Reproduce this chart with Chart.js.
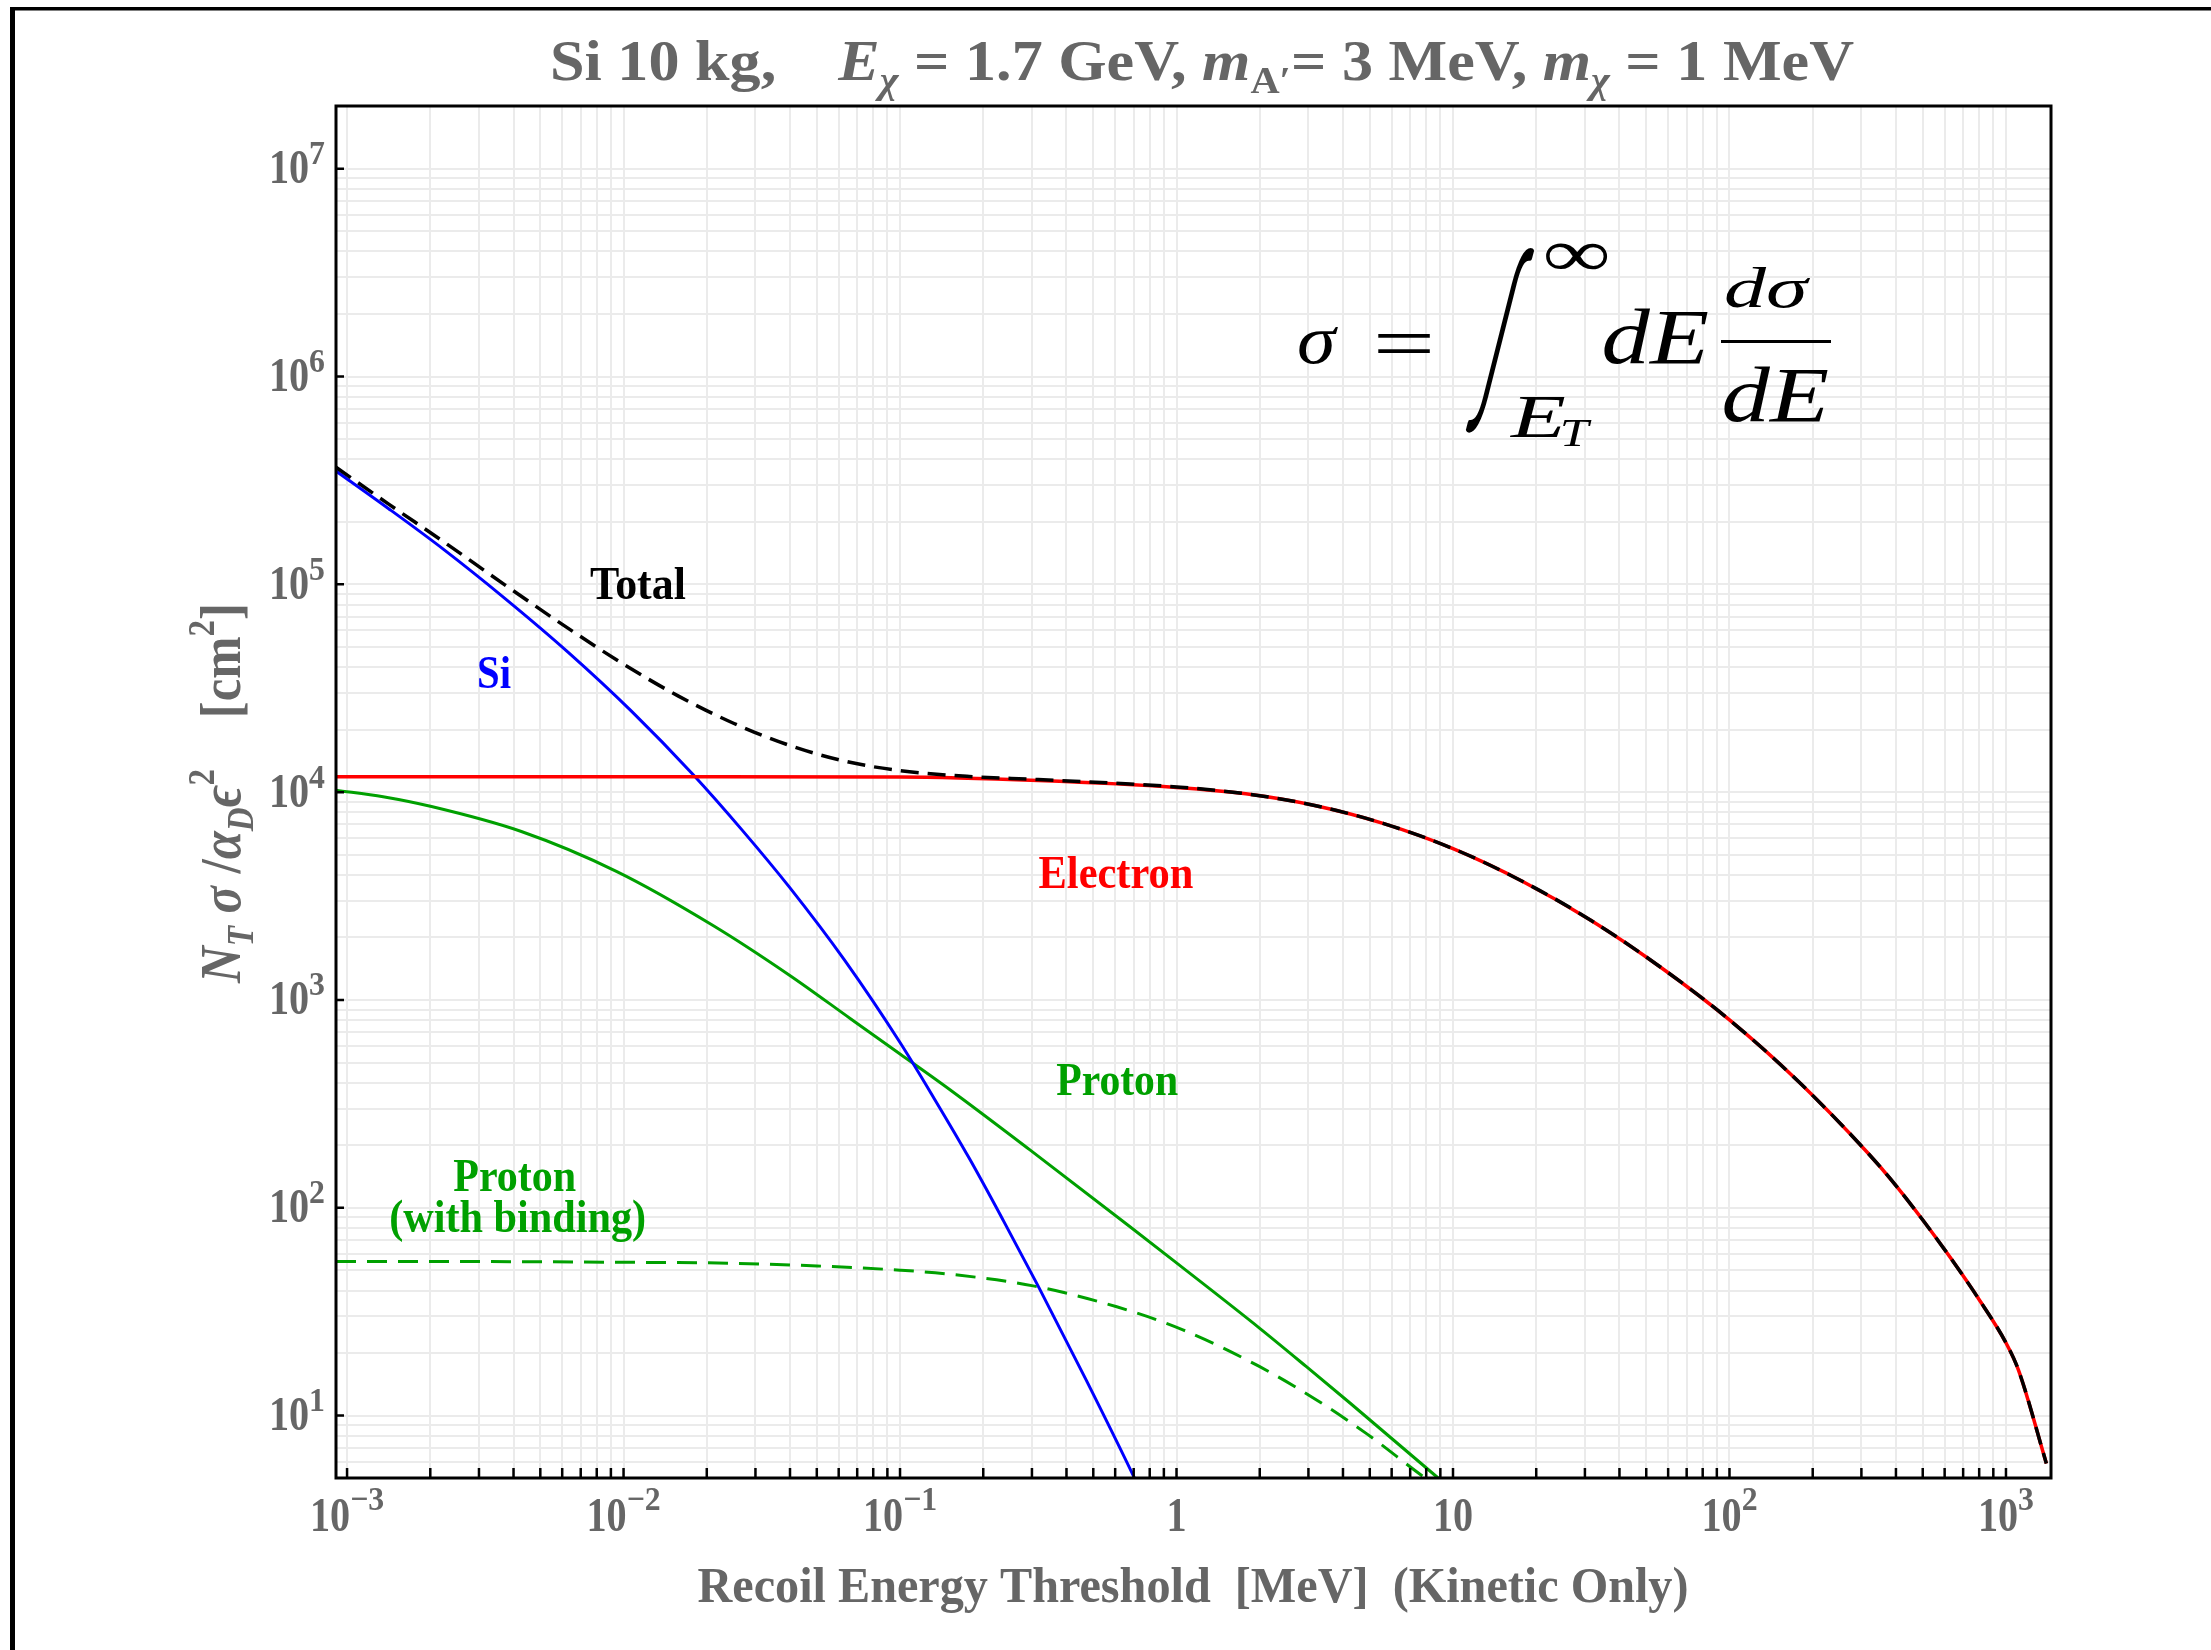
<!DOCTYPE html>
<html>
<head>
<meta charset="utf-8">
<script src="https://cdn.jsdelivr.net/npm/chart.js@4.4.1/dist/chart.umd.min.js"></script>
<style>
  html, body { margin: 0; padding: 0; background: #fff; }
  #wrap { position: relative; width: 2211px; height: 1650px; }
</style>
</head>
<body>
<div id="wrap"><canvas id="chart" width="2211" height="1650"></canvas></div>
<script>
// Recoil energy threshold E_T [MeV] vs N_T sigma / alpha_D eps^2 [cm^2]

const siE = [9.12e-4, 1.41e-3, 2.24e-3, 3.72e-3, 6.31e-3, 1.07e-2, 1.78e-2, 2.69e-2, 3.98e-2, 6.31e-2, 0.100, 0.133, 0.178, 0.237, 0.316, 0.473, 0.708, 0.794];
const siSigma = [3.51e5, 2.32e5, 1.47e5, 8.57e4, 4.71e4, 2.45e4, 1.22e4, 6550, 3490, 1550, 624, 335, 173, 86.3, 42.0, 14.7, 4.94, 3.55];

const electronE = [9.12e-4, 1.0e-2, 0.100, 0.316, 1.00, 1.78, 3.16, 5.62, 10.0, 17.8, 31.6, 56.2, 100, 178, 316, 398, 501, 631, 794, 1000, 1109, 1400];
const electronSigma = [1.186e4, 1.186e4, 1.183e4, 1.138e4, 1.054e4, 9820, 8630, 7060, 5350, 3730, 2415, 1442, 802, 404, 184, 129, 87.1, 57.3, 36.7, 22.4, 16.6, 5.89];

const totalE = [9.12e-4, 1.41e-3, 2.24e-3, 3.72e-3, 6.31e-3, 1.0e-2, 1.58e-2, 2.51e-2, 3.98e-2, 6.31e-2, 0.100, 0.178, 0.316, 1.00, 1.78, 3.16, 5.62, 10.0, 17.8, 31.6, 56.2, 100, 178, 316, 398, 501, 631, 794, 1000, 1109, 1400];
const totalSigma = [3.66e5, 2.44e5, 1.60e5, 9.95e4, 6.14e4, 4.13e4, 2.90e4, 2.14e4, 1.68e4, 1.41e4, 1.27e4, 1.19e4, 1.15e4, 1.06e4, 9820, 8630, 7060, 5350, 3730, 2415, 1442, 802, 404, 184, 129, 87.1, 57.3, 36.7, 22.4, 16.6, 5.89];

const protonE = [9.12e-4, 1.35e-3, 2.02e-3, 4.27e-3, 9.46e-3, 2.10e-2, 3.97e-2, 6.62e-2, 0.100, 0.152, 0.295, 0.679, 1.00, 2.00, 2.95, 4.24, 8.73, 9.12];
const protonSigma = [1.023e4, 9510, 8530, 6470, 4150, 2290, 1320, 813, 550, 369, 190, 81.1, 54.3, 26.3, 17.2, 11.5, 5.08, 4.83];

const bindingE = [9.12e-4, 3.16e-3, 1.0e-2, 2.46e-2, 5.01e-2, 0.100, 0.152, 0.303, 0.608, 1.06, 2.00, 3.21, 4.88, 7.82, 8.13];
const bindingSigma = [55.2, 55.1, 54.7, 54.1, 52.5, 50.1, 47.9, 42.1, 33.4, 25.8, 17.2, 11.9, 8.17, 5.08, 4.90];

// axes
const xMin = 9.12e-4, xMax = 1455;
const yMin = 5.01, yMax = 2.004e7;
const xTickValues = [1e-3, 1e-2, 1e-1, 1, 10, 1e2, 1e3];
const xTickLabels = [['10', '\u22123'], ['10', '\u22122'], ['10', '\u22121'], ['1', ''], ['10', ''], ['10', '2'], ['10', '3']];
const yTickValues = [1e1, 1e2, 1e3, 1e4, 1e5, 1e6, 1e7];
const yTickLabels = [['10', '1'], ['10', '2'], ['10', '3'], ['10', '4'], ['10', '5'], ['10', '6'], ['10', '7']];

const GRAY = '#666666';
const SERIF = '"Liberation Serif", "Times New Roman", "DejaVu Serif", serif';
const SQUASH = 0.87;

// 1..9 x 10^k inside the range, for grid and minor ticks
function gridValues(min, max) {
  const out = [];
  for (let k = Math.floor(Math.log10(min)); k <= Math.ceil(Math.log10(max)); k++) {
    for (let m = 1; m <= 9; m++) {
      const v = parseFloat((m * Math.pow(10, k)).toPrecision(6));
      if (v >= min && v <= max) out.push(v);
    }
  }
  return out;
}

function segFont(s, size) {
  const sz = (s.sub || s.sup) ? size * (s.small || 0.65) : size;
  return (s.it ? 'italic ' : '') + (s.normal ? '' : 'bold ') + sz.toFixed(1) + 'px ' + SERIF;
}

// mixed-style text on one baseline; o.width stretches it to a measured width
function drawRich(ctx, segs, o) {
  const base = o.squash || SQUASH;
  let w = 0;
  segs.forEach(s => {
    ctx.font = segFont(s, o.size);
    s._w = ctx.measureText(s.t).width * (s.sq || base);
    w += s._w;
  });
  const g = o.width ? o.width / w : 1;
  ctx.save();
  ctx.translate(o.x, o.y);
  if (o.rotate) ctx.rotate(-Math.PI / 2);
  ctx.fillStyle = o.color;
  ctx.textAlign = 'left';
  ctx.textBaseline = 'alphabetic';
  let x = o.align === 'right' ? -w * g : -w * g / 2;
  segs.forEach(s => {
    ctx.font = segFont(s, o.size);
    const dy = s.sub ? o.size * 0.22 : (s.sup ? -o.size * (s.rise || 0.42) : 0);
    ctx.save();
    ctx.translate(x, dy);
    ctx.scale((s.sq || base) * g, 1);
    ctx.fillText(s.t, 0, 0);
    ctx.restore();
    x += s._w * g;
  });
  ctx.restore();
}

// glyphs stretched into an ink box (used for the formula); skew slants them
function drawInBox(ctx, text, font, x0, x1, y0, y1, skew) {
  ctx.font = font;
  ctx.textAlign = 'left';
  ctx.textBaseline = 'alphabetic';
  const m = ctx.measureText(text);
  const iw = m.actualBoundingBoxLeft + m.actualBoundingBoxRight;
  const ih = m.actualBoundingBoxAscent + m.actualBoundingBoxDescent;
  const k = skew || 0;
  const h = y1 - y0;
  const wInk = (x1 - x0) - Math.abs(k) * h;
  ctx.save();
  ctx.translate(x0 + (k > 0 ? k * h : 0), y0);
  ctx.transform(1, 0, -k, 1, 0, 0);
  ctx.scale(wInk / iw, h / ih);
  ctx.fillText(text, m.actualBoundingBoxLeft, m.actualBoundingBoxAscent);
  ctx.restore();
}

const decorations = {
  id: 'decorations',
  afterDraw(chart) {
    const { ctx, chartArea: a, scales: { x, y } } = chart;
    ctx.save();

    // plot frame
    ctx.strokeStyle = '#000';
    ctx.lineWidth = 3;
    ctx.strokeRect(a.left, a.top, a.right - a.left, a.bottom - a.top);

    // inward tick marks: every minor on the bottom, decades on the left
    ctx.lineWidth = 2.5;
    ctx.beginPath();
    gridValues(xMin, xMax).forEach(v => {
      const px = x.getPixelForValue(v);
      ctx.moveTo(px, a.bottom); ctx.lineTo(px, a.bottom - 10);
    });
    yTickValues.forEach(v => {
      const py = y.getPixelForValue(v);
      ctx.moveTo(a.left, py); ctx.lineTo(a.left + 8, py);
    });
    ctx.stroke();

    // tick labels
    xTickValues.forEach((v, i) => {
      const [b, e] = xTickLabels[i];
      const segs = [{ t: b, sq: 0.82 }];
      if (e) segs.push({ t: e, sup: true, small: 0.69, rise: 0.41, sq: 0.94 });
      drawRich(ctx, segs, { x: x.getPixelForValue(v), y: a.bottom + 52.5, size: 49, color: GRAY });
    });
    yTickValues.forEach((v, i) => {
      const [b, e] = yTickLabels[i];
      drawRich(ctx, [{ t: b, sq: 0.82 }, { t: e, sup: true, small: 0.69, rise: 0.39, sq: 0.94 }],
        { x: a.left - 11, y: y.getPixelForValue(v) + 14.5, size: 49, color: GRAY, align: 'right' });
    });

    // title
    drawRich(ctx, [
      { t: 'Si 10 kg,    ' }, { t: 'E', it: true }, { t: '\u03c7', it: true, sub: true },
      { t: ' = 1.7 GeV, ' }, { t: 'm', it: true }, { t: 'A\u2032', sub: true },
      { t: '= 3 MeV, ' }, { t: 'm', it: true }, { t: '\u03c7', it: true, sub: true }, { t: ' = 1 MeV' }
    ], { x: 1202, y: 80, size: 57, color: GRAY, width: 1304 });

    // axis titles
    drawRich(ctx, [{ t: 'Recoil Energy Threshold  [MeV]  (Kinetic Only)' }],
      { x: 1193, y: 1602, size: 50, color: GRAY, width: 991 });
    drawRich(ctx, [
      { t: 'N', it: true }, { t: 'T', it: true, sub: true }, { t: ' \u03c3 ', it: true }, { t: '/' },
      { t: '\u03b1', it: true }, { t: 'D', it: true, sub: true }, { t: '\u03f5', it: true },
      { t: '2', sup: true, rise: 0.45 }, { t: '    [cm' }, { t: '2', sup: true, rise: 0.45 }, { t: ']' }
    ], { x: 240, y: 793, size: 58, color: GRAY, width: 380, rotate: true });

    // curve labels, anchored in data coordinates (centre x, baseline y)
    const tags = [
      { t: 'Total', e: 0.01127, s: 8.51e4, c: '#000000', w: 96 },
      { t: 'Si', e: 3.40e-3, s: 3.17e4, c: '#0000ff', w: 34 },
      { t: 'Electron', e: 0.604, s: 3475, c: '#ff0000', w: 155 },
      { t: 'Proton', e: 0.610, s: 349, c: '#00a000', w: 122 },
      { t: 'Proton', e: 4.04e-3, s: 120.8, c: '#00a000', w: 123 },
      { t: '(with binding)', e: 4.14e-3, s: 76.6, c: '#00a000', w: 257 }
    ];
    tags.forEach(g => drawRich(ctx, [{ t: g.t }],
      { x: x.getPixelForValue(g.e), y: y.getPixelForValue(g.s), size: 47, color: g.c, width: g.w }));

    // sigma = int_{E_T}^inf dE dsigma/dE
    ctx.fillStyle = '#000';
    const it = 'italic 80px ' + SERIF, up = '80px ' + SERIF;
    const integralFont = '120px Lato, "DejaVu Sans", sans-serif';
    drawInBox(ctx, '\u03c3', it, 1299, 1338, 326, 364);
    drawInBox(ctx, '=', up, 1377, 1431, 333, 353);
    drawInBox(ctx, '\u222b', integralFont, 1465, 1535, 248, 433, 0.22);
    drawInBox(ctx, '\u221e', up, 1546, 1607, 243, 270);
    drawInBox(ctx, 'E', it, 1510, 1565, 397, 437);
    drawInBox(ctx, 'T', it, 1563, 1592, 420, 446);
    drawInBox(ctx, 'dE', it, 1604, 1708, 308, 364);
    drawInBox(ctx, 'd\u03c3', it, 1726, 1810, 268, 308);
    ctx.fillRect(1721, 340, 110, 3);
    drawInBox(ctx, 'dE', it, 1724, 1828, 367, 422);

    // outer figure border (top and left edges only in the crop)
    ctx.fillRect(10, 7, 2201, 3.5);
    ctx.fillRect(10, 7, 5, 1643);
    ctx.restore();
  }
};

function series(xs, ys) {
  return xs.map((v, i) => ({ x: v, y: ys[i] }));
}

const gridStyle = { color: '#ebebeb', lineWidth: 2, drawTicks: false };

new Chart(document.getElementById('chart'), {
  type: 'line',
  data: {
    datasets: [
      { label: 'Total', data: series(totalE, totalSigma), borderColor: '#000000', borderWidth: 3.5, borderDash: [18, 9] },
      { label: 'Electron', data: series(electronE, electronSigma), borderColor: '#ff0000', borderWidth: 3.5 },
      { label: 'Si', data: series(siE, siSigma), borderColor: '#0000ff', borderWidth: 3 },
      { label: 'Proton', data: series(protonE, protonSigma), borderColor: '#00a000', borderWidth: 3 },
      { label: 'Proton (with binding)', data: series(bindingE, bindingSigma), borderColor: '#00a000', borderWidth: 3, borderDash: [20, 11] }
    ]
  },
  options: {
    responsive: false,
    animation: false,
    devicePixelRatio: 1,
    layout: { padding: { left: 336, right: 160, top: 106, bottom: 172 } },
    elements: {
      point: { radius: 0 },
      line: { fill: false, cubicInterpolationMode: 'monotone' }
    },
    plugins: {
      legend: { display: false },
      tooltip: { enabled: false },
      title: { display: false }
    },
    scales: {
      x: {
        type: 'logarithmic', min: xMin, max: xMax,
        ticks: { display: false },
        grid: gridStyle,
        border: { display: false },
        afterBuildTicks: s => { s.ticks = gridValues(xMin, xMax).map(v => ({ value: v })); }
      },
      y: {
        type: 'logarithmic', min: yMin, max: yMax,
        ticks: { display: false },
        grid: gridStyle,
        border: { display: false },
        afterBuildTicks: s => { s.ticks = gridValues(yMin, yMax).map(v => ({ value: v })); }
      }
    }
  },
  plugins: [decorations]
});
</script>
</body>
</html>
